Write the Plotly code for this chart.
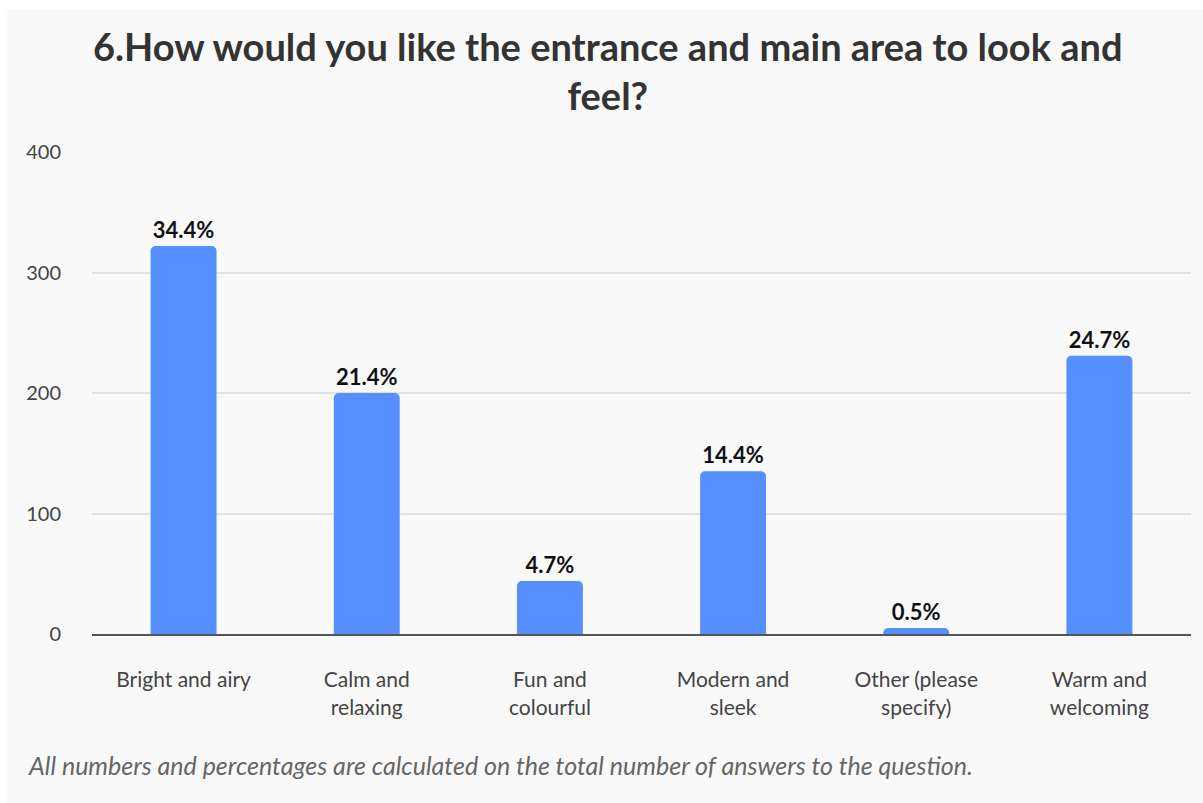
import plotly.graph_objects as go

# Survey answers for question 6
categories = [
    "Bright and airy",
    "Calm and<br>relaxing",
    "Fun and<br>colourful",
    "Modern and<br>sleek",
    "Other (please<br>specify)",
    "Warm and<br>welcoming",
]
counts = [322, 200, 44, 135, 5, 231]
percents = [34.4, 21.4, 4.7, 14.4, 0.5, 24.7]
y_ticks = [0, 100, 200, 300, 400]

W, H = 1203, 803
M_L, M_R, M_T, M_B = 92, 12, 152, 169
plot_w = W - M_L - M_R
plot_h = H - M_T - M_B

FONT = "Lato"
BAR = "#568fff"


def px_x(x):
    return (x - M_L) / plot_w


def px_y(y):
    return (H - M_B - y) / plot_h


fig = go.Figure(
    go.Bar(
        x=categories,
        y=counts,
        text=[f"{p:.1f}%" for p in percents],
        textposition="outside",
        textfont=dict(family=FONT, size=22, color="#111111", weight="bold"),
        marker=dict(color=BAR, line=dict(width=0)),
        cliponaxis=False,
        hoverinfo="skip",
    )
)

fig.update_layout(
    width=W,
    height=H,
    margin=dict(l=M_L, r=M_R, t=M_T, b=M_B, autoexpand=False),
    paper_bgcolor="#ffffff",
    plot_bgcolor="#f9f9f9",
    bargap=0.64,
    barcornerradius=5,
    showlegend=False,
    font=dict(family=FONT, color="#444444"),
    shapes=[
        dict(
            type="rect",
            xref="paper",
            yref="paper",
            x0=px_x(7),
            x1=px_x(W + 5),
            y0=px_y(H + 5),
            y1=px_y(9),
            fillcolor="#f9f9f9",
            line=dict(width=0),
            layer="below",
        )
    ],
    annotations=[
        dict(
            text="6.How would you like the entrance and main area to look and<br>feel?",
            xref="paper",
            yref="paper",
            x=px_x(608),
            y=px_y(71),
            xanchor="center",
            yanchor="middle",
            showarrow=False,
            font=dict(family=FONT, size=38, color="#333333", weight="bold"),
        ),
        dict(
            text="All numbers and percentages are calculated on the total number of answers to the question.",
            xref="paper",
            yref="paper",
            x=px_x(26),
            y=px_y(765),
            xanchor="left",
            yanchor="middle",
            showarrow=False,
            font=dict(family=FONT, size=25, color="#666666", style="italic"),
        ),
    ],
)

fig.update_xaxes(
    showgrid=False,
    showline=True,
    linecolor="#555555",
    linewidth=2,
    ticks="",
    ticklabelstandoff=26,
    tickfont=dict(family=FONT, size=21, color="#444444"),
    fixedrange=True,
)

fig.update_yaxes(
    range=[0, 400],
    tickvals=y_ticks,
    showgrid=True,
    gridcolor="#e2e2e2",
    gridwidth=1.5,
    zeroline=False,
    showline=False,
    ticks="",
    ticklabelstandoff=30,
    tickfont=dict(family=FONT, size=20, color="#444444"),
    fixedrange=True,
)

fig.write_html("out.html")
